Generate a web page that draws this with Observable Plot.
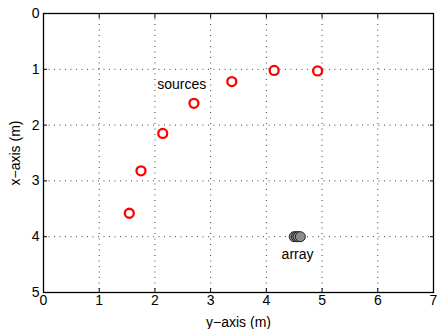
<!DOCTYPE html>
<html>
<head>
<meta charset="utf-8">
<script src="https://cdn.jsdelivr.net/npm/d3@7"></script>
<script src="https://cdn.jsdelivr.net/npm/@observablehq/plot@0.6"></script>
<style>
  html, body { margin: 0; padding: 0; background: #fff; }
  #chart svg { display: block; }
</style>
</head>
<body>
<div id="chart"></div>
<script>
// Sources (red circles): horizontal = y-axis (m), vertical = x-axis (m)
const sourceY = [1.54, 1.75, 2.14, 2.70, 3.38, 4.14, 4.92];
const sourceX = [3.58, 2.82, 2.15, 1.61, 1.22, 1.02, 1.03];
// Microphone array elements (gray discs)
const arrayY = [4.50, 4.54, 4.57, 4.61];
const arrayX = [4.00, 4.00, 4.00, 4.00];
// Annotations
const labelText = ["sources", "array"];
const labelY = [2.48, 4.56];
const labelX = [1.27, 4.32];
// Ticks
const xTicks = [0, 1, 2, 3, 4, 5, 6, 7];
const yTicks = [0, 1, 2, 3, 4, 5];

const sources = sourceY.map((y, i) => ({y, x: sourceX[i]}));
const arr = arrayY.map((y, i) => ({y, x: arrayX[i]}));
const labels = labelText.map((t, i) => ({t, y: labelY[i], x: labelX[i]}));

const font = "'Liberation Sans', Arial, Helvetica, sans-serif";

const chart = Plot.plot({
  width: 437,
  height: 329,
  marginLeft: 43,
  marginTop: 13,
  marginRight: 4,
  marginBottom: 37,
  style: {fontFamily: font, fontSize: "14px", color: "#000", background: "#fff"},
  x: {domain: [0, 7], ticks: xTicks},
  y: {domain: [0, 5], reverse: true, ticks: yTicks},
  marks: [
    Plot.gridX(xTicks.slice(1, -1), {stroke: "#000", strokeOpacity: 0.75, strokeDasharray: "1,4.5"}),
    Plot.gridY(yTicks.slice(1, -1), {stroke: "#000", strokeOpacity: 0.75, strokeDasharray: "1,4.5"}),
    Plot.axisX(xTicks, {anchor: "bottom", tickSize: -4, tickPadding: 7, tickFormat: "d", label: "y−axis (m)", labelAnchor: "center", labelArrow: "none", labelOffset: 34, fontSize: 14}),
    Plot.axisX(xTicks, {anchor: "top", tickSize: -4, tickFormat: () => "", label: null}),
    Plot.axisY(yTicks, {anchor: "left", tickSize: -4, tickPadding: 8, tickFormat: "d", label: "x−axis (m)", labelAnchor: "center", labelArrow: "none", labelOffset: 33, fontSize: 14}),
    Plot.axisY(yTicks, {anchor: "right", tickSize: -4, tickFormat: () => "", label: null}),
    Plot.frame({stroke: "#000", strokeWidth: 1.3}),
    Plot.dot(sources, {x: "y", y: "x", r: 4.5, stroke: "#ff0000", strokeWidth: 2.3, fill: "#fff"}),
    Plot.dot(arr, {x: "y", y: "x", r: 5, fill: "#8c8c8c", stroke: "#222", strokeWidth: 1}),
    Plot.text(labels, {x: "y", y: "x", text: "t", fontSize: 14, fill: "#000"})
  ]
});
document.getElementById("chart").appendChild(chart);
</script>
</body>
</html>
